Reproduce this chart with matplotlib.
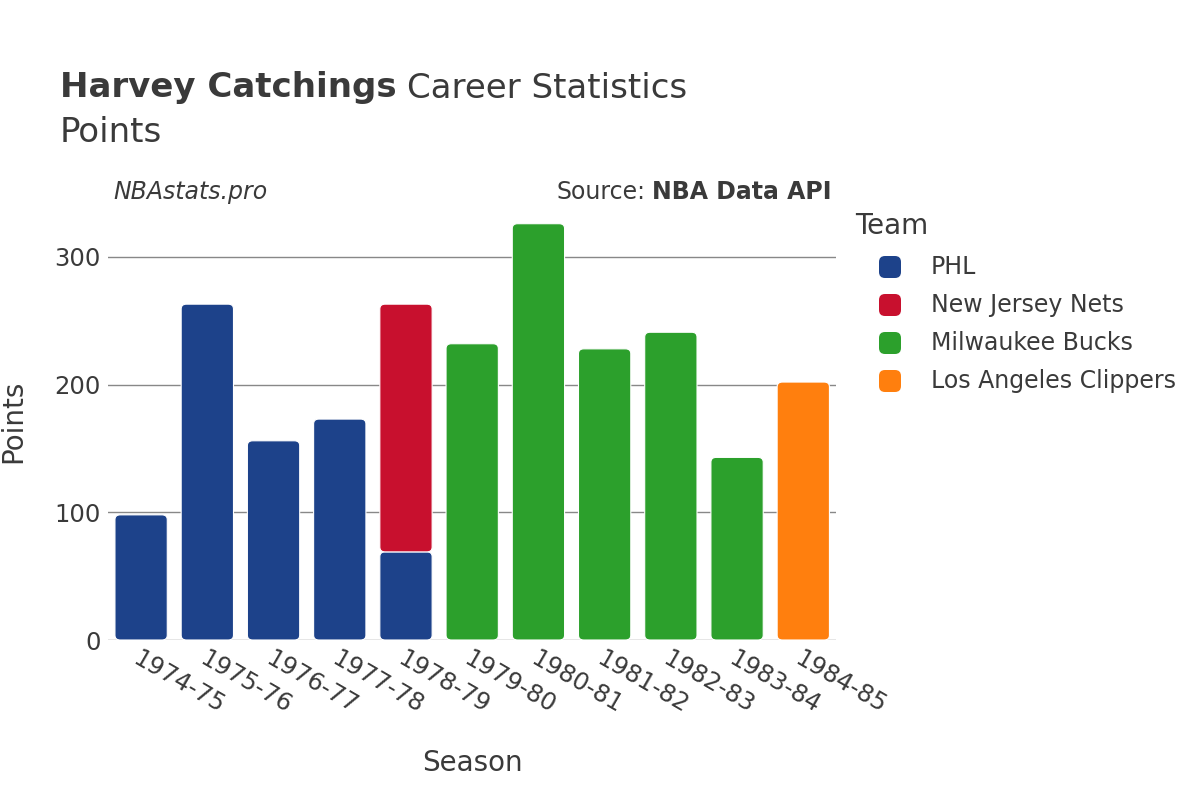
import matplotlib
matplotlib.use("Agg")
import matplotlib.pyplot as plt
from matplotlib.patches import FancyBboxPatch

seasons = ["1974-75", "1975-76", "1976-77", "1977-78", "1978-79", "1979-80",
           "1980-81", "1981-82", "1982-83", "1983-84", "1984-85"]
teams = ["PHL", "New Jersey Nets", "Milwaukee Bucks", "Los Angeles Clippers"]
team_colors = ["#1d428a", "#c8102e", "#2ca02c", "#ff7f0e"]

# points per season for each team (0 = did not play for that team)
phl     = [98, 263, 156, 173, 69, 0, 0, 0, 0, 0, 0]
nets    = [0, 0, 0, 0, 194, 0, 0, 0, 0, 0, 0]
bucks   = [0, 0, 0, 0, 0, 232, 326, 228, 241, 143, 0]
clipper = [0, 0, 0, 0, 0, 0, 0, 0, 0, 0, 202]
series = [phl, nets, bucks, clipper]

plt.rcParams["font.family"] = ["DejaVu Sans"]
text_col = "#3a3a3a"
W, H = 1200, 800

fig = plt.figure(figsize=(12, 8), dpi=100)
ax = fig.add_axes([0.09, 0.2, 0.607, 0.5475])

ymax = 343
width = 0.79
x = range(len(seasons))
bottoms = [0] * len(seasons)
for vals, col in zip(series, team_colors):
    for i, v in zip(x, vals):
        if v <= 0:
            continue
        # rounded-corner bar, drawn from the data values
        p = FancyBboxPatch((i - width / 2, bottoms[i]), width, v,
                           boxstyle="round,pad=0,rounding_size=0.08",
                           mutation_aspect=ymax / 11 * 728 / 438 * 0.9,
                           facecolor=col, edgecolor="white", linewidth=0.8,
                           zorder=3)
        ax.add_patch(p)
        bottoms[i] += v

ax.set_xlim(-0.5, len(seasons) - 0.5)
ax.set_ylim(0, ymax)
ax.set_yticks([0, 100, 200, 300])
ax.grid(axis="y", color="#888888", linewidth=1, zorder=0)
ax.axhline(0, color="#e6e6e6", linewidth=2, zorder=2)
for s in ax.spines.values():
    s.set_visible(False)
ax.tick_params(length=0, labelsize=17.5, labelcolor=text_col, pad=5)
ax.set_xticks(list(x))
ax.set_xticklabels(seasons, rotation=-30, ha="left", rotation_mode="anchor")
ax.set_xlabel("Season", fontsize=20, color=text_col, labelpad=22)
ax.set_ylabel("Points", fontsize=20, color=text_col, labelpad=20)

# title: bold name + regular rest
t1 = fig.text(60 / W, 1 - 88 / H, "Harvey Catchings", fontsize=24.5,
              fontweight="bold", color=text_col, va="center")
fig.canvas.draw()
bb = t1.get_window_extent()
fig.text(bb.x1 / W + 0.009, 1 - 88 / H, "Career Statistics", fontsize=24.5,
         color=text_col, va="center")
fig.text(60 / W, 1 - 132 / H, "Points", fontsize=24.5, color=text_col, va="center")

fig.text(113 / W, 1 - 192 / H, "NBAstats.pro", fontsize=17, style="italic",
         color=text_col, va="center")
t2 = fig.text(832 / W, 1 - 192 / H, "NBA Data API", fontsize=17,
              fontweight="bold", color=text_col, va="center", ha="right")
fig.canvas.draw()
bb2 = t2.get_window_extent()
fig.text(bb2.x0 / W - 0.006, 1 - 192 / H, "Source:", fontsize=17,
         color=text_col, va="center", ha="right")

# legend
fig.text(855 / W, 1 - 226 / H, "Team", fontsize=20, color=text_col, va="center")
for k, (name, col) in enumerate(zip(teams, team_colors)):
    yc = 267 + 38 * k
    box = FancyBboxPatch(((890 - 11) / W, 1 - (yc + 11) / H), 22 / W, 22 / H,
                         boxstyle="round,pad=0,rounding_size=0.005",
                         mutation_aspect=W / H,
                         transform=fig.transFigure, facecolor=col,
                         edgecolor="none")
    fig.patches.append(box)
    fig.text(931 / W, 1 - yc / H, name, fontsize=17, color=text_col, va="center")

fig.savefig("out.png", dpi=100)
